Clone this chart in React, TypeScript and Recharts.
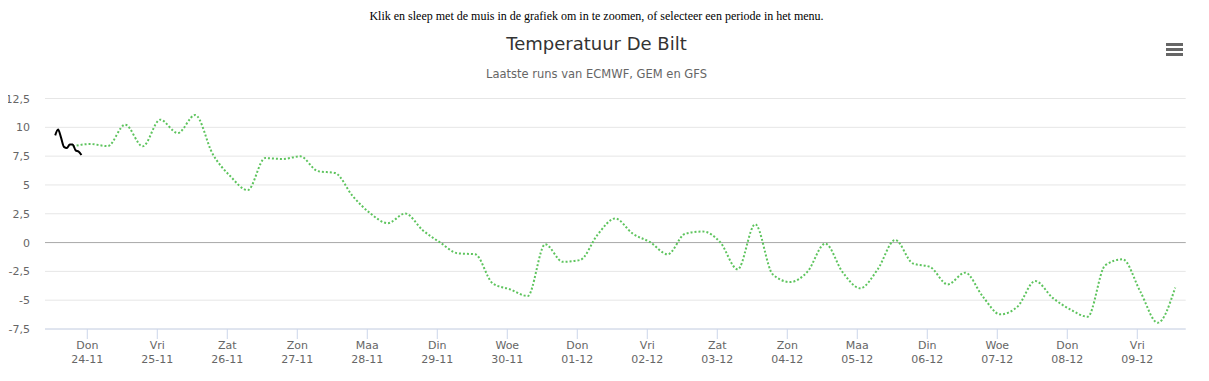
import { CartesianGrid, Line, LineChart, ReferenceLine, XAxis, YAxis } from "recharts";

// hours relative to 24-11 00:00
const modelHours = [
  -5, 1, 7, 13, 19, 25, 31, 37, 43, 49, 55, 61, 67, 73, 79, 85, 91, 97, 103, 109,
  115, 121, 127, 133, 139, 145, 151, 157, 163, 169, 175, 181, 187, 193, 199, 205,
  211, 217, 223, 229, 235, 241, 247, 253, 259, 265, 271, 277, 283, 289, 295, 301,
  307, 313, 319, 325, 331, 337, 343, 349, 355, 361, 367, 373,
];
const modelTemps = [
  8.35, 8.55, 8.37, 10.23, 8.35, 10.66, 9.5, 11.07, 7.68, 5.77, 4.55, 7.33, 7.25,
  7.48, 6.2, 6.03, 4.03, 2.55, 1.68, 2.52, 1.07, 0, -0.93, -1.02, -3.54, -4.06,
  -4.64, -0.15, -1.67, -1.51, 0.7, 2.09, 0.77, 0.03, -1.02, 0.77, 0.96, 0.03,
  -2.32, 1.59, -2.76, -3.43, -2.5, -0.09, -2.58, -3.97, -2.32, 0.23, -1.8, -2.12,
  -3.63, -2.61, -4.67, -6.23, -5.54, -3.34, -4.8, -5.8, -6.43, -1.97, -1.45,
  -4.23, -6.96, -3.91,
];

const obsHours = [-11, -10, -9, -8, -7, -6, -5, -4, -3, -2];
const obsTemps = [9.3, 9.8, 9.1, 8.3, 8.2, 8.5, 8.5, 8.0, 7.9, 7.6];

const dayNames = [
  "Don", "Vri", "Zat", "Zon", "Maa", "Din", "Woe", "Don",
  "Vri", "Zat", "Zon", "Maa", "Din", "Woe", "Don", "Vri",
];
const dayDates = [
  "24-11", "25-11", "26-11", "27-11", "28-11", "29-11", "30-11", "01-12",
  "02-12", "03-12", "04-12", "05-12", "06-12", "07-12", "08-12", "09-12",
];
const yTicks = [-7.5, -5, -2.5, 0, 2.5, 5, 7.5, 10, 12.5];

const modelData = modelHours.map((h, i) => ({ h, t: modelTemps[i] }));
const obsData = obsHours.map((h, i) => ({ h, t: obsTemps[i] }));
const xTicks = dayNames.map((_, i) => i * 24);

const FONT = '"DejaVu Sans", Verdana, sans-serif';

const XTick = ({ x, y, payload }: any) => {
  const i = Math.round(payload.value / 24);
  return (
    <text x={x} y={y} textAnchor="middle" fill="#666666" fontSize={11} fontFamily={FONT}>
      <tspan x={x} dy={8}>{dayNames[i]}</tspan>
      <tspan x={x} dy={14}>{dayDates[i]}</tspan>
    </text>
  );
};

const YTick = ({ y, payload }: any) => (
  <text x={30} y={y} dy={4} textAnchor="end" fill="#666666" fontSize={11} fontFamily={FONT}>
    {String(payload.value).replace(".", ",")}
  </text>
);

export default function App() {
  return (
    <div style={{ position: "relative", width: 1209, height: 381, margin: -8 }}>
      <div
        style={{
          position: "absolute", top: 9, left: 0, width: 1193, textAlign: "center",
          fontFamily: '"Liberation Serif", serif', fontSize: 12, color: "#000",
        }}
      >
        Klik en sleep met de muis in de grafiek om in te zoomen, of selecteer een periode in het menu.
      </div>
      <div
        style={{
          position: "absolute", top: 33, left: 0, width: 1193, textAlign: "center",
          fontFamily: FONT, fontSize: 18, color: "#333333",
        }}
      >
        Temperatuur De Bilt
      </div>
      <div
        style={{
          position: "absolute", top: 67, left: 0, width: 1193, textAlign: "center",
          fontFamily: FONT, fontSize: 11.5, color: "#666666",
        }}
      >
        Laatste runs van ECMWF, GEM en GFS
      </div>
      <svg style={{ position: "absolute", left: 1166, top: 42 }} width={18} height={14}>
        <rect x={0} y={1} width={17} height={3} fill="#666666" />
        <rect x={0} y={6} width={17} height={3} fill="#666666" />
        <rect x={0} y={11} width={17} height={3} fill="#666666" />
      </svg>
      <LineChart
        width={1209}
        height={381}
        margin={{ top: 98.5, right: 23.3, left: 0, bottom: 0 }}
        style={{ position: "absolute", left: 0, top: 0 }}
      >
        <CartesianGrid horizontal vertical={false} stroke="#e6e6e6" />
        <XAxis
          dataKey="h"
          type="number"
          domain={[-14.5, 376.6]}
          ticks={xTicks}
          allowDataOverflow
          height={52}
          tickSize={10}
          tickLine={{ stroke: "#ccd6eb" }}
          axisLine={{ stroke: "#ccd6eb" }}
          tick={<XTick />}
          interval={0}
        />
        <YAxis
          type="number"
          domain={[-7.5, 12.5]}
          ticks={yTicks}
          width={45}
          axisLine={false}
          tickLine={false}
          tick={<YTick />}
          interval={0}
        />
        <ReferenceLine y={0} stroke="#aaaaaa" strokeWidth={1} />
        <Line
          data={modelData}
          dataKey="t"
          type="monotone"
          stroke="#5ec45e"
          strokeWidth={2}
          strokeDasharray="2 2"
          dot={false}
          activeDot={false}
          isAnimationActive={false}
        />
        <Line
          data={obsData}
          dataKey="t"
          type="monotone"
          stroke="#000000"
          strokeWidth={2}
          dot={false}
          activeDot={false}
          isAnimationActive={false}
        />
      </LineChart>
    </div>
  );
}
